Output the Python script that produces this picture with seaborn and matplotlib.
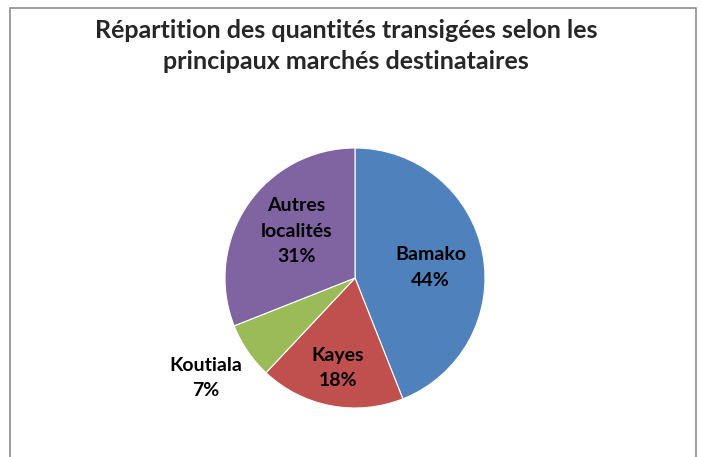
import matplotlib
matplotlib.use("Agg")
import matplotlib.pyplot as plt
import matplotlib.patches as mpatches
import seaborn as sns

# Data
MARKETS = ["Bamako", "Kayes", "Koutiala", "Autres\nlocalités"]
SHARES = [44, 18, 7, 31]
COLORS = ["#4F81BD", "#C0504D", "#9BBB59", "#8064A2"]
TITLE = "Répartition des quantités transigées selon les\nprincipaux marchés destinataires"

# label anchor positions (pie radius = 1)
LABEL_POS = [(0.58, 0.08), (-0.13, -0.69), (-1.15, -0.77), (-0.45, 0.36)]

sns.set_theme(style="white")
plt.rcParams["font.family"] = ["Lato", "DejaVu Sans"]

fig = plt.figure(figsize=(7.01, 4.57), dpi=100)
W, H = 701, 457

# chart frame (open at the bottom, as in the source)
frame = mpatches.Rectangle((10 / W, -0.05), 686 / W, 1.05 - 8 / H,
                           transform=fig.transFigure, fill=False,
                           edgecolor="#8C8C8C", linewidth=1.2)
fig.patches.append(frame)

cx, cy, r = 355, 278, 130
ax = fig.add_axes([(cx - r) / W, (H - cy - r) / H, 2 * r / W, 2 * r / H])
ax.pie(SHARES, colors=COLORS, startangle=90, counterclock=False,
       wedgeprops={"linewidth": 0.8, "edgecolor": "white"})
ax.set_xlim(-1, 1)
ax.set_ylim(-1, 1)
ax.set_aspect("equal")
ax.axis("off")

for name, val, (x, y) in zip(MARKETS, SHARES, LABEL_POS):
    ax.text(x, y, f"{name}\n{val}%", ha="center", va="center",
            fontsize=14, fontweight="bold", color="black", linespacing=1.6)

fig.text(346 / W, 1 - 46 / H, TITLE, ha="center", va="center",
         fontsize=18, fontweight="bold", linespacing=1.38)

fig.savefig("out.png", dpi=100)
